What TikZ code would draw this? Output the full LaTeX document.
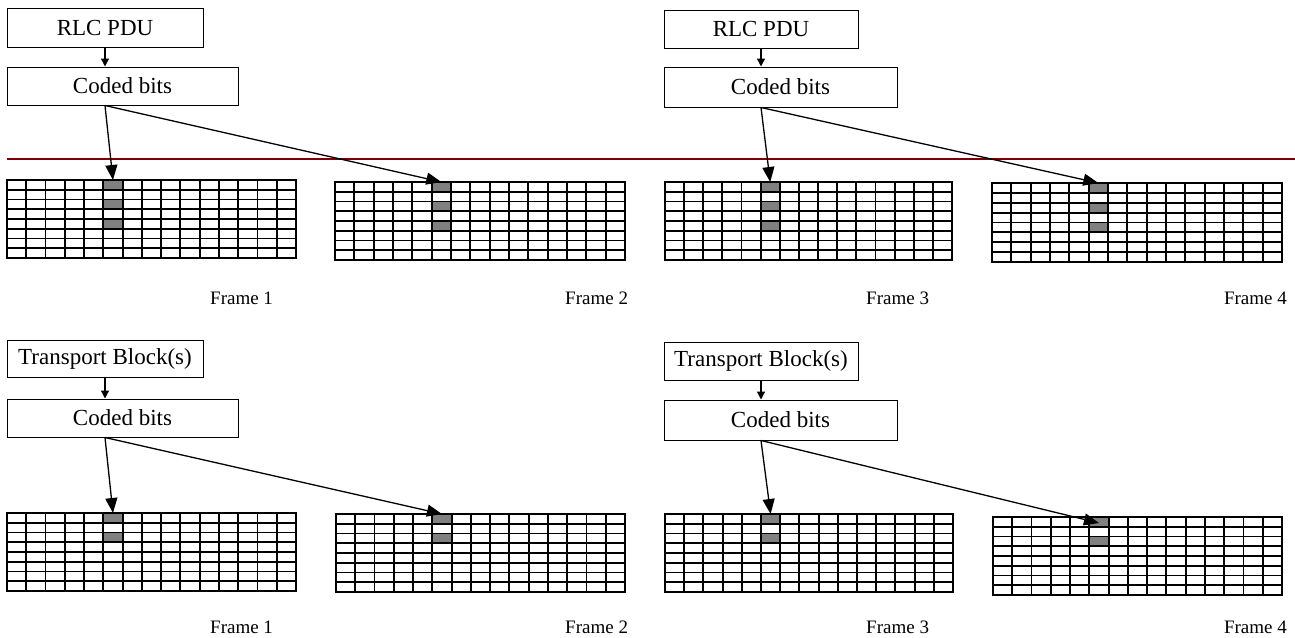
\documentclass[tikz,border=0pt]{standalone}
\usepackage{fontspec}
\setmainfont{Liberation Serif}
\usetikzlibrary{arrows.meta}
\definecolor{cellgray}{RGB}{128,128,128}
\definecolor{sepred}{RGB}{128,0,0}
\tikzset{
  box/.style={draw, line width=1pt, inner sep=0pt, font=\fontsize{23}{26}\selectfont},
  gridline/.style={line width=1.9pt, line cap=rect},
  bigarrow/.style={line width=1.3pt, -{Triangle[length=15pt,width=12pt]}},
  smallarrow/.style={line width=1.3pt, -{Triangle[length=8pt,width=8pt]}},
  framelabel/.style={font=\fontsize{19}{22}\selectfont, inner sep=0pt},
}
\newcommand\framegrid[6]{%
  \pgfmathsetmacro\gcw{#4/15}%
  \pgfmathsetmacro\grh{#5/8}%
  \foreach \r in {#6} {\fill[cellgray] ({#2+5*\gcw},{#3+\r*\grh}) rectangle ({#2+6*\gcw},{#3+(\r+1)*\grh});}
  \foreach \i in {0,...,15} {\draw[gridline] ({#2+\i*\gcw},#3) -- ({#2+\i*\gcw},{#3+#5});}
  \foreach \j in {0,...,8} {\draw[gridline] (#2,{#3+\j*\grh}) -- ({#2+#4},{#3+\j*\grh});}
  \coordinate (#1) at ({#2+5.5*\gcw},#3);
}
\begin{document}
\begin{tikzpicture}[x=1pt,y=-1pt]
\useasboundingbox (0,0) rectangle (1295,637);
% top-left
\node[box, minimum width=196pt, minimum height=39pt] (rlcA) at (105,27.5) {RLC PDU};
\node[box, minimum width=231pt, minimum height=38pt] (codA) at (122.5,86) {Coded bits};
% top-right
\node[box, minimum width=194pt, minimum height=38pt] (rlcB) at (761,29) {RLC PDU};
\node[box, minimum width=233pt, minimum height=40pt] (codB) at (780.5,87) {Coded bits};
% bottom-left
\node[box, minimum width=196pt, minimum height=37pt] (tbA) at (105,358.5) {Transport Block(s)};
\node[box, minimum width=231pt, minimum height=38pt] (codC) at (122.5,418) {Coded bits};
% bottom-right
\node[box, minimum width=194pt, minimum height=38pt] (tbB) at (761,361) {Transport Block(s)};
\node[box, minimum width=233pt, minimum height=40pt] (codD) at (780.5,420) {Coded bits};

% separator
\coordinate (redL) at (7,159);
\coordinate (redR) at (1295,159);
\draw[sepred, line width=1.3pt] (redL) -- (redR);

% grids
\framegrid{gA1}{7}{180}{289}{78}{0,2,4}
\framegrid{gA2}{335}{182}{290}{78}{0,2,4}
\framegrid{gA3}{665}{182}{287}{78}{0,2,4}
\framegrid{gA4}{992}{183}{290}{79}{0,2,4}
\framegrid{gB1}{7}{513}{289}{78}{0,2}
\framegrid{gB2}{336}{514}{289}{78}{0,2}
\framegrid{gB3}{665}{514}{288}{78}{0,2}
\framegrid{gB4}{993}{517}{289}{78}{0,2}

% arrows
\draw[smallarrow] (rlcA.south) -- (rlcA.south |- codA.north);
\draw[smallarrow] (rlcB.south) -- (rlcB.south |- codB.north);
\draw[smallarrow] (tbA.south) -- (tbA.south |- codC.north);
\draw[smallarrow] (tbB.south) -- (tbB.south |- codD.north);

\draw[bigarrow] (rlcA.south |- codA.south) -- (gA1);
\draw[bigarrow] (rlcA.south |- codA.south) -- (gA2);
\draw[bigarrow] (rlcB.south |- codB.south) -- (gA3);
\draw[bigarrow] (rlcB.south |- codB.south) -- (gA4);
\draw[bigarrow] (tbA.south |- codC.south) -- (gB1);
\draw[bigarrow] (tbA.south |- codC.south) -- (gB2);
\draw[bigarrow] (tbB.south |- codD.south) -- (gB3);
\draw[bigarrow] (tbB.south |- codD.south) -- ([yshift=-6pt]gB4);

% labels
\node[framelabel, anchor=west] (fA1) at (210,298) {Frame 1};
\node[framelabel, anchor=west] (fA2) at (565,298) {Frame 2};
\node[framelabel, anchor=west] (fA3) at (866,298) {Frame 3};
\node[framelabel, anchor=east] (fA4) at (1287,298) {Frame 4};
\node[framelabel, anchor=west] (fB1) at (210,627) {Frame 1};
\node[framelabel, anchor=west] (fB2) at (565,627) {Frame 2};
\node[framelabel, anchor=west] (fB3) at (866,627) {Frame 3};
\node[framelabel, anchor=east] (fB4) at (1287,627) {Frame 4};
\end{tikzpicture}
\end{document}
